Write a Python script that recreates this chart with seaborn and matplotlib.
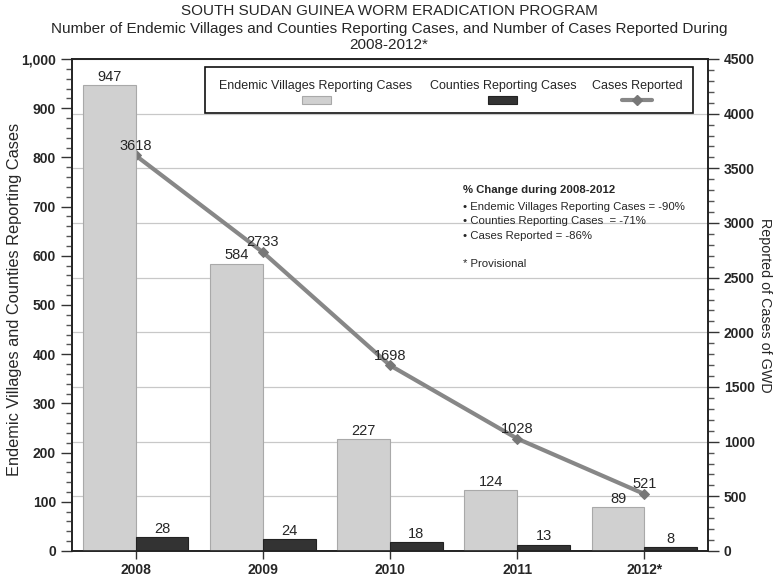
import numpy as np
import pandas as pd
import seaborn as sns
import matplotlib.pyplot as plt
from matplotlib.patches import Rectangle
from matplotlib.lines import Line2D
from matplotlib.ticker import MultipleLocator, FuncFormatter

# Data
years = ['2008', '2009', '2010', '2011', '2012*']
villages = [947, 584, 227, 124, 89]
counties = [28, 24, 18, 13, 8]
cases = [3618, 2733, 1698, 1028, 521]

series_names = ['Endemic Villages Reporting Cases', 'Counties Reporting Cases']
bar_colors = ['#d0d0d0', '#333333']
line_color = '#878787'

df = pd.DataFrame({
    'Year': years * 2,
    'Series': [series_names[0]] * 5 + [series_names[1]] * 5,
    'Value': villages + counties,
})

sns.set_style('ticks')
plt.rcParams['font.family'] = ['Liberation Sans', 'DejaVu Sans']

W, H = 778, 580
fig = plt.figure(figsize=(W / 100, H / 100), dpi=100)


def fx(x):
    return x / W


def fy(y):
    return 1 - y / H


ax1 = fig.add_axes([fx(72), fy(551), fx(708) - fx(72), fy(59) - fy(551)])
ax2 = ax1.twinx()
# bars in front, gridlines of the right axis behind
ax1.set_zorder(2)
ax2.set_zorder(1)
ax1.patch.set_visible(False)

sns.barplot(data=df, x='Year', y='Value', hue='Series', hue_order=series_names,
            palette=bar_colors, width=0.83, saturation=1, legend=False, ax=ax1)
for cont, ec in zip(ax1.containers, ['#a9a9a9', '#222222']):
    for p in cont:
        p.set_edgecolor(ec)
        p.set_linewidth(0.8)
    ax1.bar_label(cont, padding=1, fontsize=10.5)

sns.lineplot(x=np.arange(len(years)), y=cases, ax=ax2, color=line_color, lw=3,
             marker='D', markersize=5, markerfacecolor='#777777',
             markeredgecolor='#777777')
# point labels on the front axes so the bars don't hide them
for i, v in enumerate(cases):
    ax1.annotate(str(v), (i, v), xycoords=ax2.transData, xytext=(0, 2),
                 textcoords='offset points', ha='center', va='bottom',
                 fontsize=10.5, zorder=10)

ax1.set_xlim(-0.5, len(years) - 0.5)
ax1.set_ylim(0, 1000)
ax2.set_ylim(0, 4500)

ax1.yaxis.set_major_locator(MultipleLocator(100))
ax1.yaxis.set_minor_locator(MultipleLocator(20))
ax1.yaxis.set_major_formatter(FuncFormatter(lambda v, p: f'{int(v):,}'))
ax2.yaxis.set_major_locator(MultipleLocator(500))
ax2.yaxis.set_minor_locator(MultipleLocator(100))

ax2.grid(axis='y', color='#c8c8c8', lw=0.9)
ax1.grid(False)

for ax in (ax1, ax2):
    ax.tick_params(axis='both', which='major', direction='out', length=8,
                   width=1, color='#333333', labelsize=10)
    ax.tick_params(axis='y', which='minor', direction='out', length=4,
                   width=1, color='#555555')
    for s in ax.spines.values():
        s.set_visible(True)
        s.set_color('#222222')
        s.set_linewidth(1.2)
    for lab in ax.get_yticklabels() + ax.get_xticklabels():
        lab.set_fontweight('bold')

ax1.tick_params(axis='x', length=6, pad=3)
ax1.set_xlabel('')
ax1.set_ylabel('Endemic Villages and Counties Reporting Cases', fontsize=11.8,
               va='center')
ax1.yaxis.set_label_coords(-0.091, 0.512)
ax2.set_ylabel('Reported of Cases of GWD', fontsize=10.3, rotation=270, va='center')
ax2.yaxis.set_label_coords(1.09, 0.5)
ax2.set_xlabel('')

# Titles
fig.text(0.5, fy(11), 'SOUTH SUDAN GUINEA WORM ERADICATION PROGRAM',
         ha='center', va='center', fontsize=11)
fig.text(0.5, fy(29), 'Number of Endemic Villages and Counties Reporting Cases, '
         'and Number of Cases Reported During', ha='center', va='center', fontsize=11)
fig.text(0.5, fy(45), '2008-2012*', ha='center', va='center', fontsize=11)

# Legend box (labels above the keys)
fig.add_artist(Rectangle((fx(205), fy(113)), fx(693) - fx(205), fy(67) - fy(113),
                         transform=fig.transFigure, fill=False, ec='#111111',
                         lw=1.2, zorder=5))
leg_x = [316, 503, 637]
leg_labels = series_names + ['Cases Reported']
for x, lab in zip(leg_x, leg_labels):
    fig.text(fx(x), fy(86), lab, ha='center', va='center', fontsize=9, zorder=6)
for x, c, ec in zip(leg_x[:2], bar_colors, ['#a9a9a9', '#222222']):
    fig.add_artist(Rectangle((fx(x - 14.5), fy(104)), fx(29), fy(96) - fy(104),
                             transform=fig.transFigure, fc=c, ec=ec, lw=0.8, zorder=6))
fig.add_artist(Line2D([fx(leg_x[2] - 15), fx(leg_x[2] + 15)], [fy(100), fy(100)],
                      transform=fig.transFigure, color=line_color, lw=3, zorder=6))
fig.add_artist(Line2D([fx(leg_x[2])], [fy(100)], transform=fig.transFigure,
                      color='#777777', marker='D', markersize=5, lw=0, zorder=7))

# Note box
notes = ['\u2022 Endemic Villages Reporting Cases = -90%',
         '\u2022 Counties Reporting Cases  = -71%',
         '\u2022 Cases Reported = -86%']
fig.text(fx(463), fy(190), '% Change during 2008-2012', fontsize=8.2,
         fontweight='bold', va='center', zorder=6)
for i, t in enumerate(notes):
    fig.text(fx(463), fy(207 + 14.5 * i), t, fontsize=8.2, va='center', zorder=6)
fig.text(fx(463), fy(264), '* Provisional', fontsize=8.2, va='center', zorder=6)

fig.savefig('out.png', dpi=100)
